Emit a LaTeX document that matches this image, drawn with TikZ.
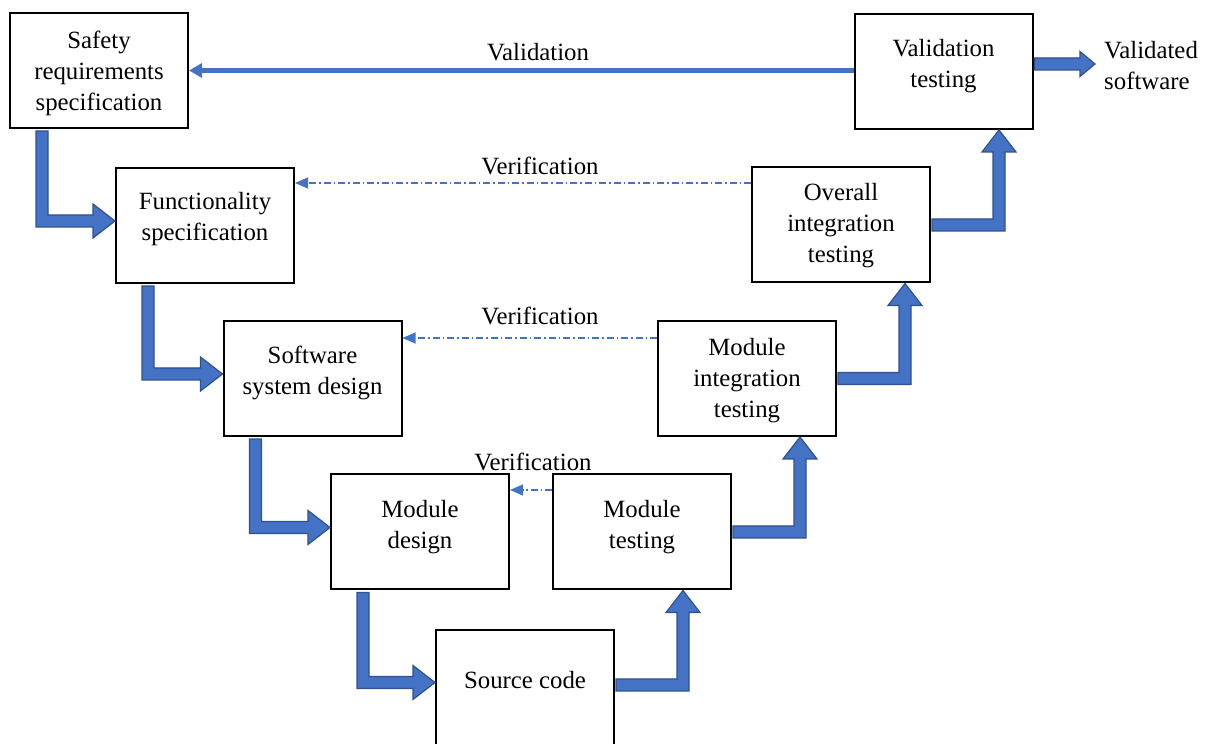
\documentclass[tikz,border=0pt]{standalone}
\usepackage{fontspec}
\setmainfont{Liberation Serif}
\usetikzlibrary{calc,arrows.meta}

\definecolor{vblue}{HTML}{4472C4}
\definecolor{vblueedge}{HTML}{2F528F}

\tikzset{
  box/.style={draw=black, line width=2pt, minimum width=178pt, minimum height=115pt,
              inner sep=0pt, fill=white},
  txt/.style={align=center, font=\fontsize{24.8pt}{31pt}\selectfont, inner sep=0pt},
  blockarrow/.style={fill=vblue, draw=vblueedge, line width=1.2pt, line join=miter},
  validline/.style={draw=vblue, line width=4.5pt, -{Triangle[length=13pt,width=14pt]}},
  verifline/.style={draw=vblue, line width=1.2pt,
                    dash pattern=on 7pt off 3pt on 1.5pt off 3pt,
                    -{Triangle[length=13pt,width=11pt]}},
}

% thick bent arrow: down from the bottom of #1, then right into the left side of #2
% (#3 = vertical offset of the horizontal leg from the centre of #2)
\newcommand\arrDownRight[3]{%
  \path[blockarrow] let \p1=(#1.south west), \p2=([yshift=#3]#2.west) in
    (\x1+27pt,\y1-2pt) -- (\x1+27pt,\y2-6pt) -- (\x2-22pt,\y2-6pt)
    -- (\x2-22pt,\y2-17pt) -- (\x2,\y2) -- (\x2-22pt,\y2+17pt)
    -- (\x2-22pt,\y2+6pt) -- (\x1+39pt,\y2+6pt) -- (\x1+39pt,\y1-2pt) -- cycle;}

% thick bent arrow: right from the side of #1, then up into the bottom of #2
\newcommand\arrRightUp[3]{%
  \path[blockarrow] let \p1=([yshift=#3]#1.east), \p3=($(#1.east)+(68pt,0)$),
                        \p2=(#2.south) in
    (\x1+1pt,\y1+6pt) -- (\x3-6pt,\y1+6pt) -- (\x3-6pt,\y2-22pt)
    -- (\x3-17pt,\y2-22pt) -- (\x3,\y2) -- (\x3+17pt,\y2-22pt)
    -- (\x3+6pt,\y2-22pt) -- (\x3+6pt,\y1-6pt) -- (\x1+1pt,\y1-6pt) -- cycle;}

\begin{document}
\begin{tikzpicture}[x=1pt,y=1pt]
  \useasboundingbox (0,0) rectangle (1218,744);

  % boxes of the V
  \node[box] (b1) at (99,673.5) {};
  \node[box] (b2) at (205,518.5) {};
  \node[box] (b3) at (312.5,365.5) {};
  \node[box] (b4) at (420,212) {};
  \node[box, minimum height=120pt] (b5) at (525,54) {};
  \node[box] (b6) at (642,212) {};
  \node[box] (b7) at (747,365.5) {};
  \node[box] (b8) at (841,519) {};
  \node[box] (b9) at (943.5,672.5) {};

  % box texts
  \node[txt] (t1) at (99,671) {Safety\\requirements\\specification};
  \node[txt] (t2) at (205,525) {Functionality\\specification};
  \node[txt] (t3) at (312.5,371) {Software\\system design};
  \node[txt] (t4) at (420,217) {Module\\design};
  \node[txt] (t5) at (525,64) {Source code};
  \node[txt] (t6) at (642,217) {Module\\testing};
  \node[txt] (t7) at (747,363.5) {Module\\integration\\testing};
  \node[txt] (t8) at (841,518.5) {Overall\\integration\\testing};
  \node[txt] (t9) at (943.5,677.5) {Validation\\testing};
  \node[txt, anchor=west, align=left] (tout) at (1104,678.5) {Validated\\software};

  % left leg
  \arrDownRight{b1}{b2}{4.5pt}
  \arrDownRight{b2}{b3}{4.5pt}
  \arrDownRight{b3}{b4}{4.5pt}
  \arrDownRight{b4}{b5}{7.5pt}

  % right leg
  \arrRightUp{b5}{b6}{5pt}
  \arrRightUp{b6}{b7}{0pt}
  \arrRightUp{b7}{b8}{0pt}
  \arrRightUp{b8}{b9}{0pt}

  % output arrow
  \coordinate (vout) at (1095,680);
  \path[blockarrow] let \p1=([yshift=7.5pt]b9.east), \p2=(vout) in
    (\x1+1pt,\y1+6pt) -- (\x2-15pt,\y1+6pt) -- (\x2-15pt,\y1+12.5pt) -- (\x2,\y1)
    -- (\x2-15pt,\y1-12.5pt) -- (\x2-15pt,\y1-6pt) -- (\x1+1pt,\y1-6pt) -- cycle;

  % validation
  \draw[validline] ([yshift=1pt]b9.west) coordinate (va) -- (b1.east |- va);
  \node[txt] (lval) at (538,692) {Validation};

  % verification
  \draw[verifline] ([yshift=42pt]b8.west) coordinate (v1) -- (b2.east |- v1);
  \node[txt] (lver1) at (540,578) {Verification};
  \draw[verifline] ([yshift=40.5pt]b7.west) coordinate (v2) -- (b3.east |- v2);
  \node[txt] (lver2) at (540,428) {Verification};
  \draw[verifline] ([yshift=42pt]b6.west) coordinate (v3) -- (b4.east |- v3);
  \node[txt] (lver3) at (533,282) {Verification};
\end{tikzpicture}
\end{document}
